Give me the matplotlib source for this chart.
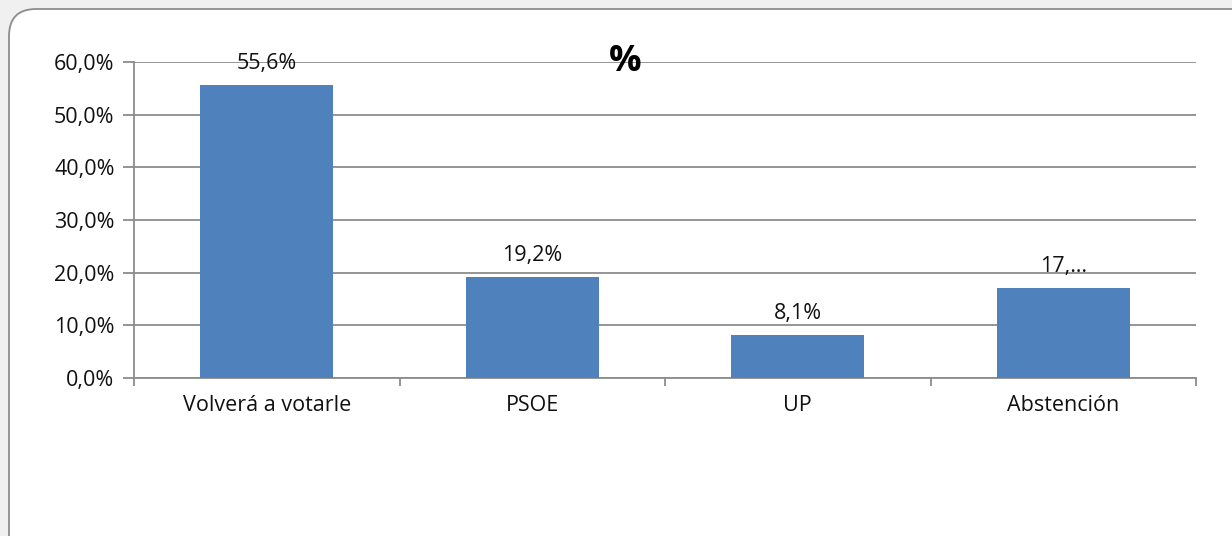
import matplotlib.pyplot as plt
from matplotlib.patches import FancyBboxPatch
from matplotlib.ticker import FuncFormatter, FixedLocator

categorias = ['Volverá a votarle', 'PSOE', 'UP', 'Abstención']
valores = [55.6, 19.2, 8.1, 17.1]
etiquetas = ['55,6%', '19,2%', '8,1%', '17,…']

plt.rcParams['font.family'] = ['Open Sans', 'DejaVu Sans']

fig = plt.figure(figsize=(12.32, 5.36), dpi=100)
fig.patch.set_facecolor('#f0f0f0')

# marco redondeado blanco
W, H = 1232, 536
caja = FancyBboxPatch((9 / W, -0.2), 1.2, (1 - 9 / H) + 0.2,
                      boxstyle='round,pad=0,rounding_size=0.022',
                      transform=fig.transFigure, facecolor='white',
                      edgecolor='#8c8c8c', linewidth=1.3, mutation_aspect=W / H,
                      zorder=-1)
fig.patches.append(caja)

ax = fig.add_axes([134 / W, 1 - 378 / H, 1062 / W, 316 / H])
ax.set_facecolor('none')

x = range(len(categorias))
ax.bar(x, valores, width=0.5, color='#4f81bd', zorder=3)
for xi, v, t in zip(x, valores, etiquetas):
    ax.annotate(t, (xi, v), xytext=(0, 15.5), textcoords='offset points',
                ha='center', va='center', fontsize=15.5, color='#111111', zorder=4)

ax.set_xlim(-0.5, len(categorias) - 0.5)
ax.set_ylim(0, 60)
ax.set_yticks(range(0, 61, 10))
ax.yaxis.set_major_formatter(FuncFormatter(lambda v, p: f'{v:.1f}'.replace('.', ',') + '%'))
ax.yaxis.grid(True, color='#8c8c8c', linewidth=1.3, zorder=0)

ax.set_xticks(list(x))
ax.set_xticklabels(categorias)
ax.xaxis.set_minor_locator(FixedLocator([i - 0.5 for i in range(len(categorias) + 1)]))
ax.tick_params(axis='x', which='major', length=0, pad=12, labelsize=15.5, labelcolor='#111111')
ax.tick_params(axis='x', which='minor', length=6, color='#8c8c8c', width=1.3)
ax.tick_params(axis='y', length=8, color='#8c8c8c', width=1.3, labelsize=15.5, pad=6,
               labelcolor='#111111')

for s in ['top', 'right']:
    ax.spines[s].set_visible(False)
for s in ['left', 'bottom']:
    ax.spines[s].set_color('#8c8c8c')
    ax.spines[s].set_linewidth(1.3)

ax.text(491 / 1062, 1.0, '%', transform=ax.transAxes, ha='center', va='center',
        fontsize=26, fontweight='bold', zorder=5)

fig.savefig('out.png', dpi=100, facecolor=fig.get_facecolor())
